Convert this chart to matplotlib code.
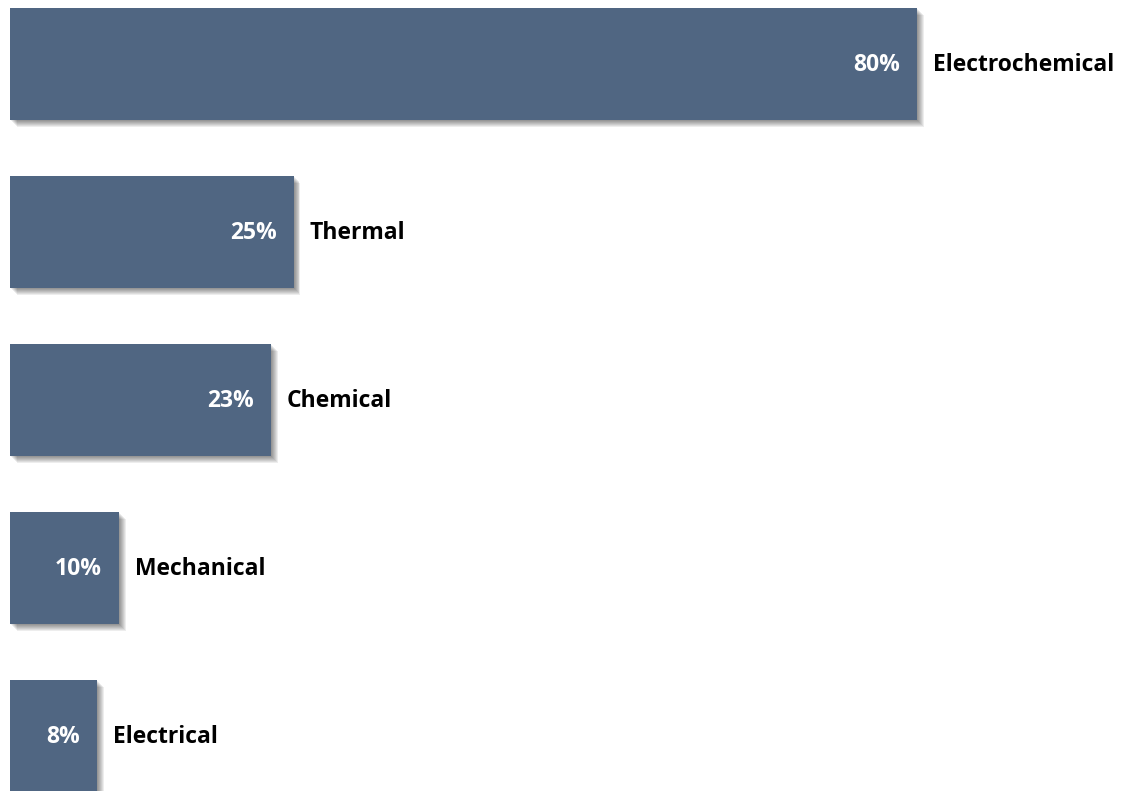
import matplotlib
matplotlib.use("Agg")
import matplotlib.pyplot as plt
import matplotlib.patheffects as pe

categories = ["Electrochemical", "Thermal", "Chemical", "Mechanical", "Electrical"]
values = [80, 25, 23, 9.6, 7.7]
value_labels = ["80%", "25%", "23%", "10%", "8%"]

BAR_COLOR = "#506682"
W, H, DPI = 1125, 791, 100
fig = plt.figure(figsize=(W / DPI, H / DPI), dpi=DPI)
ax = fig.add_axes([0, 0, 1, 1])

px_per_unit = 11.34
ax.set_xlim(-10 / px_per_unit, (W - 10) / px_per_unit)
spacing = 168.0
ax.set_ylim((H - 64) / spacing, -64 / spacing)

ypos = list(range(len(categories)))
shadow = [pe.SimplePatchShadow(offset=(d, -d), shadow_rgbFace="black", alpha=0.07)
          for d in (0.8, 1.5, 2.2, 2.9, 3.6, 4.3, 5.0)] + [pe.Normal()]
bars = ax.barh(ypos, values, height=112 / spacing, color=BAR_COLOR, linewidth=0)
for b in bars:
    b.set_path_effects(shadow)

font = "Open Sans"
for y, v, vl, c in zip(ypos, values, value_labels, categories):
    ax.annotate(vl, xy=(v, y), xytext=(-17, -1), textcoords="offset pixels",
                ha="right", va="center", color="white", fontsize=16.5,
                fontweight="bold", family=font)
    ax.annotate(c, xy=(v, y), xytext=(16, -1), textcoords="offset pixels",
                ha="left", va="center", color="black", fontsize=16.5,
                fontweight="bold", family=font)

ax.axis("off")
fig.savefig("out.png", dpi=DPI, facecolor="white")
